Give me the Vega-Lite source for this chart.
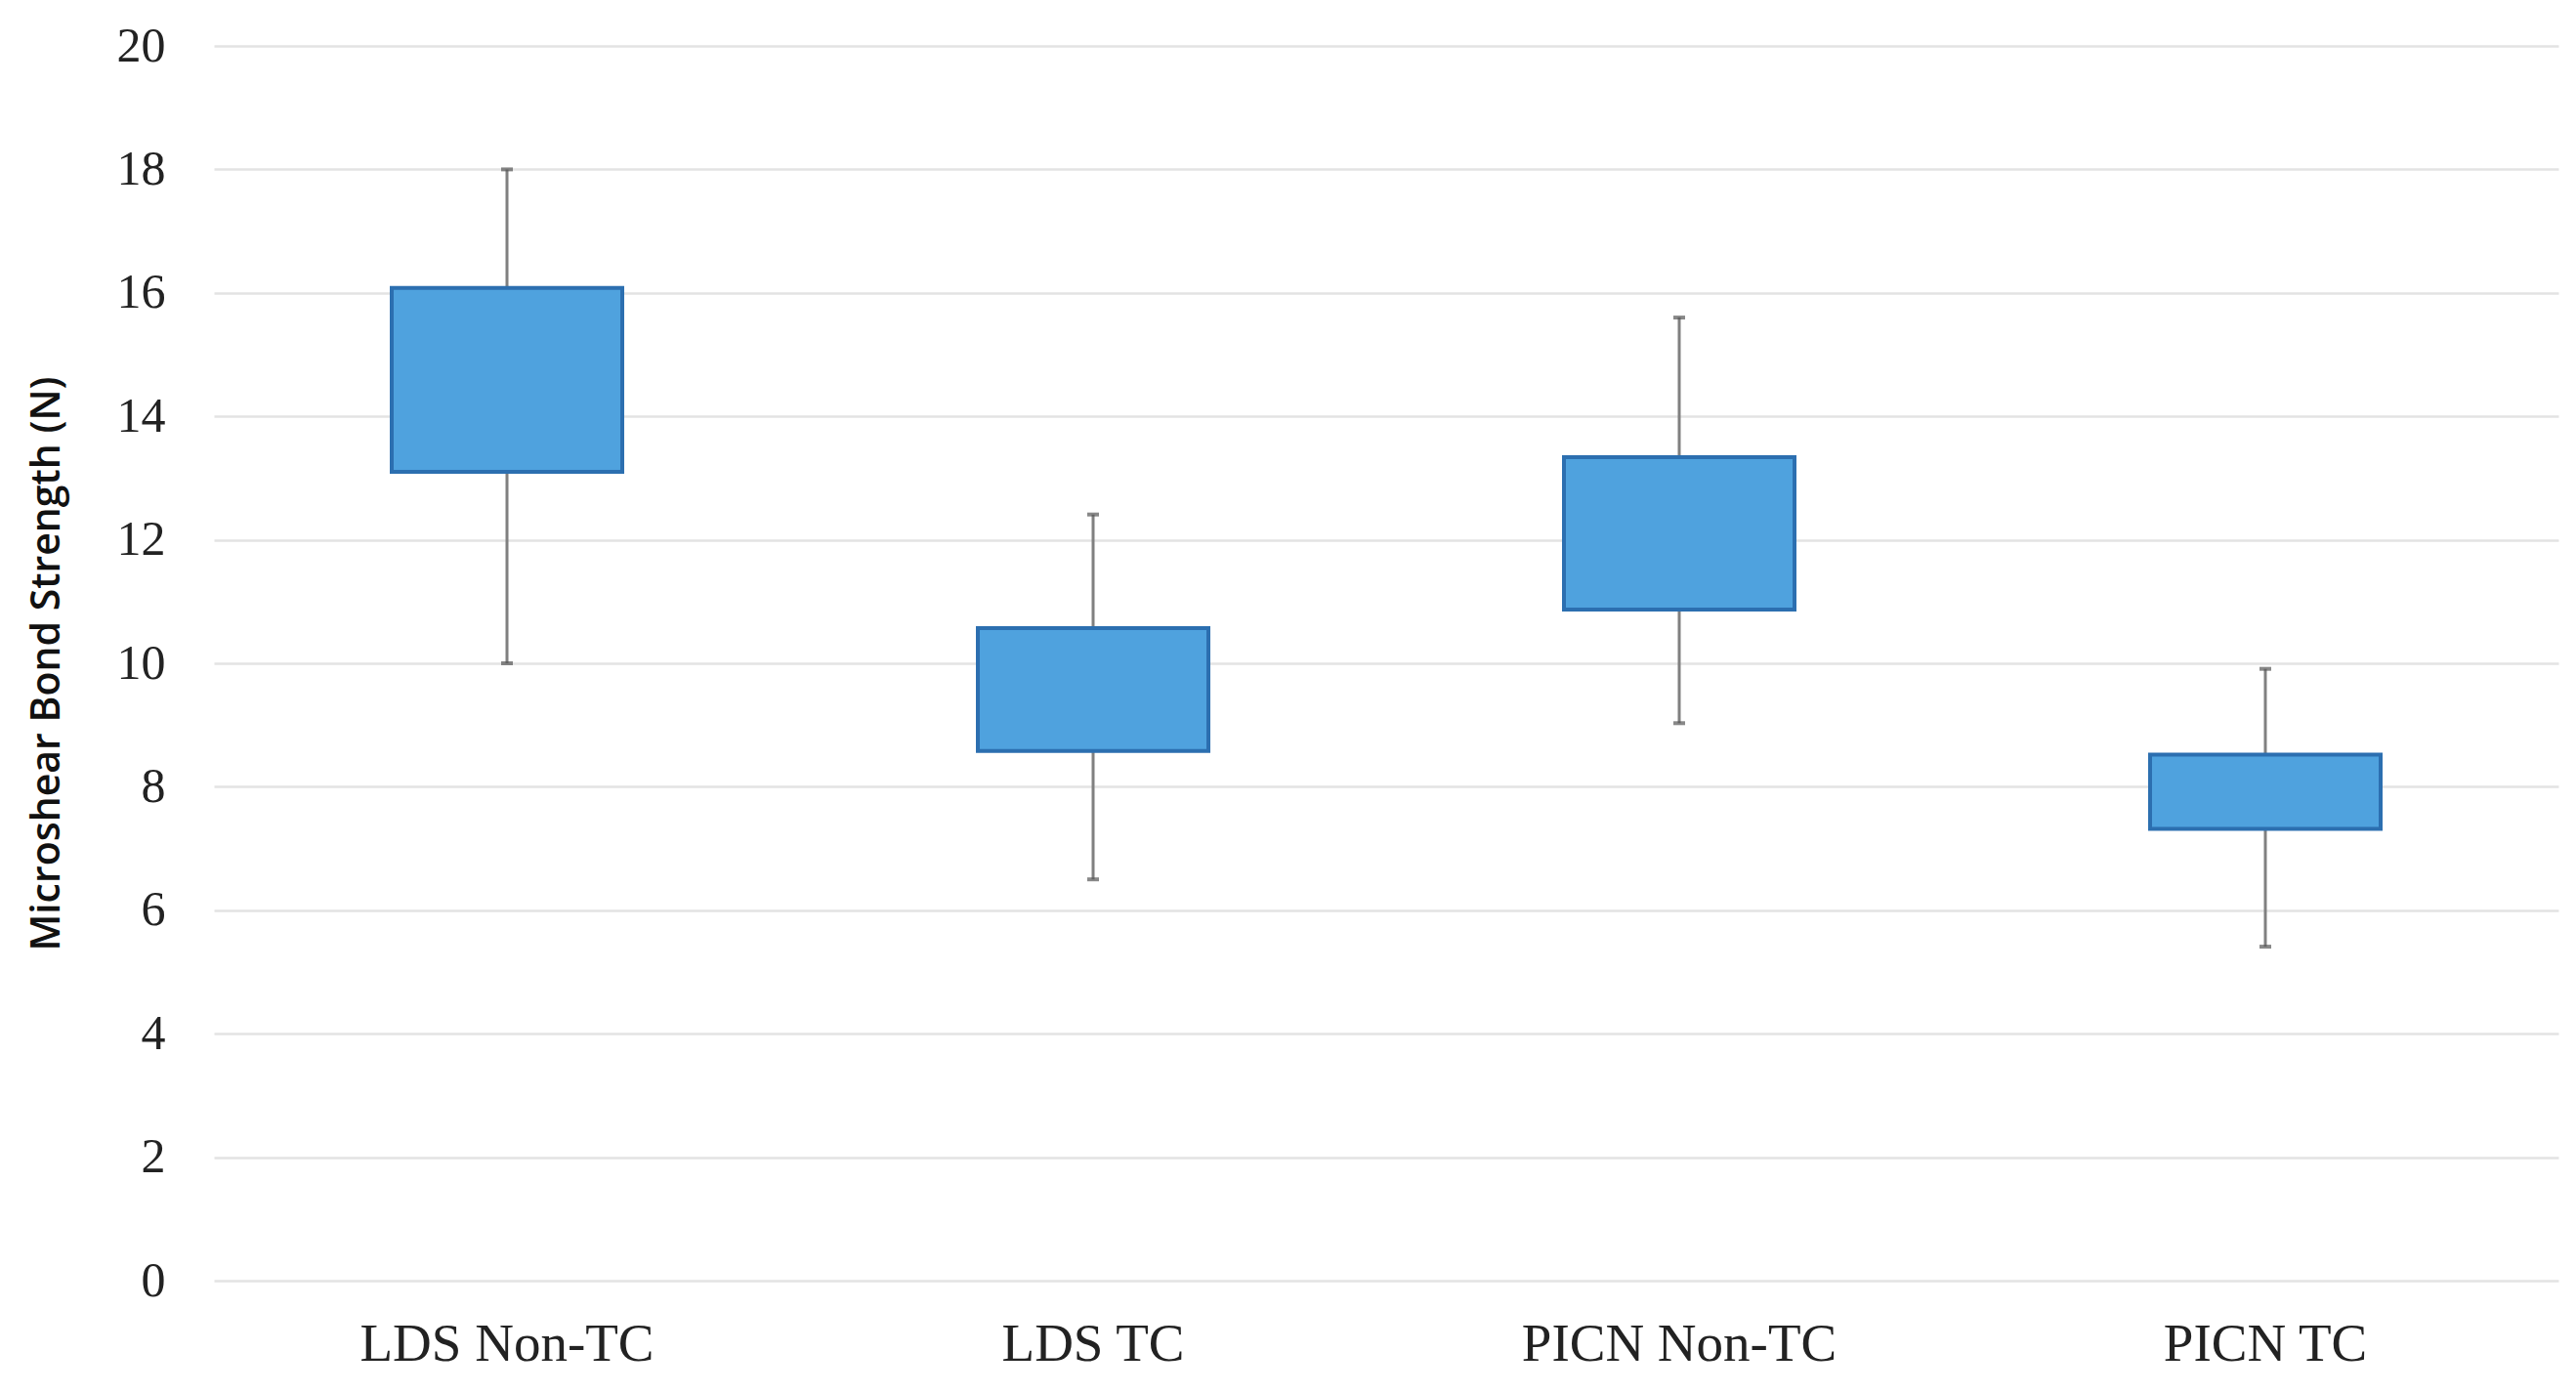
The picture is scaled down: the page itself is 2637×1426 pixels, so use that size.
{
  "$schema": "https://vega.github.io/schema/vega-lite/v6.json",
  "autosize": {"type": "none"},
  "width": 2400,
  "height": 1264,
  "padding": {"left": 219, "top": 47, "right": 18, "bottom": 115},
  "background": "white",
  "config": {"view": {"stroke": null}},
  "data": {
    "values": [
      {"group": "LDS Non-TC", "min": 10.0, "q1": 13.1, "q3": 16.08, "max": 18.0},
      {"group": "LDS TC", "min": 6.5, "q1": 8.58, "q3": 10.57, "max": 12.41},
      {"group": "PICN Non-TC", "min": 9.03, "q1": 10.87, "q3": 13.34, "max": 15.6},
      {"group": "PICN TC", "min": 5.41, "q1": 7.32, "q3": 8.52, "max": 9.91}
    ]
  },
  "encoding": {
    "x": {
      "field": "group", "type": "nominal", "sort": null,
      "scale": {"paddingInner": 0, "paddingOuter": 0},
      "axis": {
        "title": null, "labelAngle": 0, "domain": false, "ticks": false, "labelLimit": 0,
        "labelFont": "Liberation Serif", "labelFontSize": 55, "labelColor": "#222222",
        "labelPadding": 38, "grid": false
      }
    }
  },
  "layer": [
    {
      "mark": {"type": "rule", "color": "#808080", "strokeWidth": 3},
      "encoding": {
        "y": {
          "field": "min", "type": "quantitative",
          "scale": {"domain": [0, 20], "nice": false},
          "axis": {
            "title": "Microshear Bond Strength (N)",
            "titleFont": "Open Sans", "titleFontSize": 41, "titleFontWeight": 600, "titleColor": "#111111",
            "titlePadding": 50,
            "values": [0, 2, 4, 6, 8, 10, 12, 14, 16, 18, 20], "format": "d",
            "labelFont": "Liberation Serif", "labelFontSize": 50, "labelColor": "#222222",
            "labelPadding": 50, "domain": false, "ticks": false,
            "grid": true, "gridColor": "#E3E3E3", "gridWidth": 2.5
          }
        },
        "y2": {"field": "max"}
      }
    },
    {
      "mark": {"type": "tick", "color": "#555555", "size": 12, "thickness": 4},
      "encoding": {"y": {"field": "max", "type": "quantitative"}}
    },
    {
      "mark": {"type": "tick", "color": "#555555", "size": 12, "thickness": 4},
      "encoding": {"y": {"field": "min", "type": "quantitative"}}
    },
    {
      "mark": {"type": "bar", "width": 236, "color": "#4FA2DE", "stroke": "#2C6FB0", "strokeWidth": 4},
      "encoding": {
        "y": {"field": "q1", "type": "quantitative"},
        "y2": {"field": "q3"}
      }
    }
  ]
}
